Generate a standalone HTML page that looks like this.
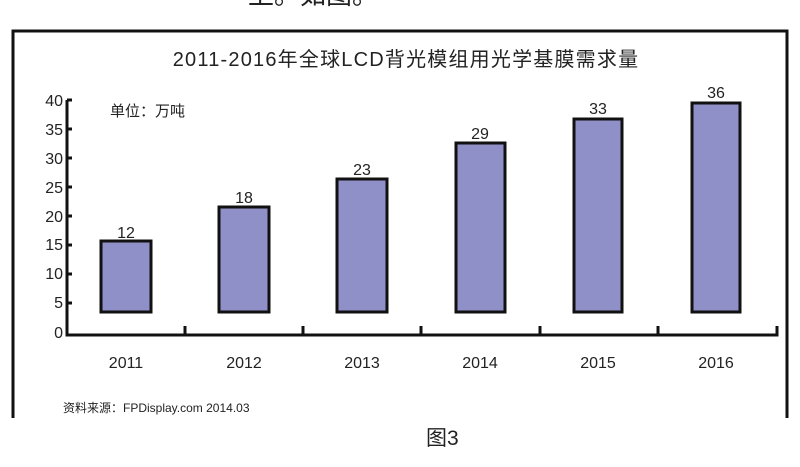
<!DOCTYPE html>
<html><head><meta charset="utf-8"><style>
html,body{margin:0;padding:0;background:#fff;}
svg{display:block;}
text{font-family:"Liberation Sans","Noto Sans CJK SC",sans-serif;fill:#222;}
</style></head><body>
<svg width="800" height="467" viewBox="0 0 800 467" xmlns="http://www.w3.org/2000/svg">
<rect width="800" height="467" fill="#fff"/>
<text x="248" y="4" font-size="26" fill="#333">上。如图。</text>
<path d="M13 418 V31 H787 V418" fill="none" stroke="#111" stroke-width="3"/>
<text x="406" y="66" font-size="20" text-anchor="middle" letter-spacing="1.2" fill="#111">2011-2016年全球LCD背光模组用光学基膜需求量</text>
<text x="110" y="116" font-size="15">单位：万吨</text>
<g font-size="16" text-anchor="end">
<text x="63" y="106">40</text><text x="63" y="135">35</text><text x="63" y="164">30</text>
<text x="63" y="193">25</text><text x="63" y="222">20</text><text x="63" y="250">15</text>
<text x="63" y="279">10</text><text x="63" y="308">5</text><text x="63" y="338">0</text>
</g>
<g stroke="#111" stroke-width="3" fill="none">
<path d="M67 100 V335 H777 V326"/>
<path d="M67 100 h5 M67 129 h5 M67 158 h5 M67 187 h5 M67 216 h5 M67 245 h5 M67 274 h5 M67 303 h5"/>
<path d="M185 335 v-9 M303 335 v-9 M421 335 v-9 M540 335 v-9 M658 335 v-9"/>
</g>
<g fill="#9090c8" stroke="#111" stroke-width="3">
<rect x="101" y="241" width="50" height="71"/>
<rect x="219" y="207" width="50" height="105"/>
<rect x="337" y="179" width="50" height="133"/>
<rect x="456" y="143" width="49" height="169"/>
<rect x="574" y="119" width="48" height="193"/>
<rect x="692" y="103" width="48" height="209"/>
</g>
<g font-size="16" text-anchor="middle">
<text x="126" y="238">12</text><text x="244" y="203">18</text><text x="362" y="175">23</text>
<text x="480" y="139">29</text><text x="598" y="114">33</text><text x="716" y="98">36</text>
</g>
<g font-size="16" text-anchor="middle">
<text x="126" y="368">2011</text><text x="244" y="368">2012</text><text x="362" y="368">2013</text>
<text x="480" y="368">2014</text><text x="598" y="368">2015</text><text x="716" y="368">2016</text>
</g>
<text x="63" y="412" font-size="12">资料来源：FPDisplay.com 2014.03</text>
<text x="426" y="445" font-size="21">图3</text>
</svg>
</body></html>
